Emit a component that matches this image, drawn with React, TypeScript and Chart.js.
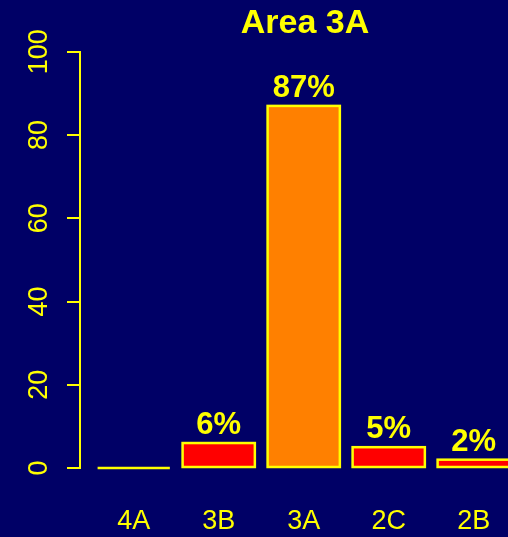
import { useEffect, useRef } from "react";
import { Chart, registerables } from "chart.js";

Chart.register(...registerables);

const categories = ["4A", "3B", "3A", "2C", "2B"];
const percentages = [0, 6, 87, 5, 2];
const barColors = ["#FF0000", "#FF0000", "#FF8000", "#FF0000", "#FF0000"];
const yTicks = [0, 20, 40, 60, 80, 100];
const chartTitle = "Area 3A";

const BG = "#000066";
const FG = "#FFFF00";
const FONT = "'Liberation Sans', Arial, Helvetica, sans-serif";

export default function App() {
  const ref = useRef<HTMLCanvasElement | null>(null);

  useEffect(() => {
    const canvas = ref.current;
    if (!canvas) return;

    const bgPlugin = {
      id: "bg",
      beforeDraw(chart: any) {
        const { ctx, width, height } = chart;
        ctx.save();
        ctx.fillStyle = BG;
        ctx.fillRect(0, 0, width, height);
        ctx.restore();
      },
    };

    // outlines centred on the bar edges, like R's rect()
    const outlines = {
      id: "outlines",
      afterDatasetsDraw(chart: any) {
        const { ctx } = chart;
        const meta = chart.getDatasetMeta(0);
        ctx.save();
        ctx.strokeStyle = FG;
        ctx.lineWidth = 2.5;
        ctx.lineJoin = "miter";
        meta.data.forEach((bar: any) => {
          const { x, y, base, width } = bar.getProps(["x", "y", "base", "width"], true);
          ctx.strokeRect(x - width / 2, Math.min(y, base), width, Math.abs(base - y));
        });
        ctx.fillStyle = FG;
        ctx.font = `bold 31px ${FONT}`;
        ctx.textAlign = "center";
        ctx.textBaseline = "alphabetic";
        meta.data.forEach((bar: any, i: number) => {
          const v = percentages[i];
          if (v <= 0) return;
          ctx.fillText(`${v}%`, bar.x, bar.y - 9);
        });
        ctx.restore();
      },
    };

    const yLabels = {
      id: "yLabels",
      afterDraw(chart: any) {
        const { ctx, chartArea } = chart;
        const ys = chart.scales.y;
        ctx.save();
        ctx.fillStyle = FG;
        ctx.font = `27px ${FONT}`;
        ctx.textAlign = "center";
        ctx.textBaseline = "middle";
        for (const v of yTicks) {
          const y = ys.getPixelForValue(v);
          ctx.save();
          ctx.translate(chartArea.left - 40, y);
          ctx.rotate(-Math.PI / 2);
          ctx.fillText(String(v), 0, 0);
          ctx.restore();
        }
        ctx.restore();
      },
    };

    const chart = new Chart(canvas, {
      type: "bar",
      data: {
        datasets: [
          {
            data: percentages.map((v, i) => ({ x: i, y: v })),
            backgroundColor: barColors,
            borderWidth: 0,
            barPercentage: 0.85,
            categoryPercentage: 1,
          },
        ],
      },
      options: {
        responsive: false,
        devicePixelRatio: 1,
        animation: false,
        layout: { padding: { left: 0, right: 0, top: 0, bottom: 0 } },
        plugins: {
          legend: { display: false },
          tooltip: { enabled: false },
          title: {
            display: true,
            text: chartTitle,
            color: FG,
            fullSize: false,
            font: { family: FONT, size: 34, weight: "bold" },
            padding: { top: 3, bottom: 8 },
          },
        },
        scales: {
          x: {
            type: "linear",
            min: -0.632,
            max: 4.662,
            offset: false,
            grid: { display: false, drawTicks: false, tickLength: 0 },
            border: { display: false },
            afterBuildTicks: (s: any) => {
              s.ticks = categories.map((_, i) => ({ value: i }));
            },
            afterFit: (s: any) => {
              s.height = 69;
            },
            ticks: {
              color: FG,
              font: { family: FONT, size: 27 },
              padding: 37,
              autoSkip: false,
              maxRotation: 0,
              callback: (v: any) => categories[Math.round(Number(v))] ?? "",
            },
          },
          y: {
            min: 0,
            max: 100,
            afterFit: (s: any) => {
              s.width = 80;
            },
            afterBuildTicks: (s: any) => {
              s.ticks = yTicks.map((v) => ({ value: v }));
            },
            grid: {
              display: true,
              drawOnChartArea: false,
              drawTicks: true,
              tickLength: 13,
              color: FG,
              lineWidth: 2,
            },
            border: { display: true, color: FG, width: 2 },
            ticks: { display: false },
          },
        },
      },
      plugins: [bgPlugin, outlines, yLabels],
    } as any);

    return () => chart.destroy();
  }, []);

  return (
    <div
      style={{
        position: "absolute",
        left: 0,
        top: 0,
        width: 508,
        height: 537,
        overflow: "hidden",
        background: BG,
      }}
    >
      <canvas ref={ref} width={530} height={537} style={{ display: "block" }} />
    </div>
  );
}
